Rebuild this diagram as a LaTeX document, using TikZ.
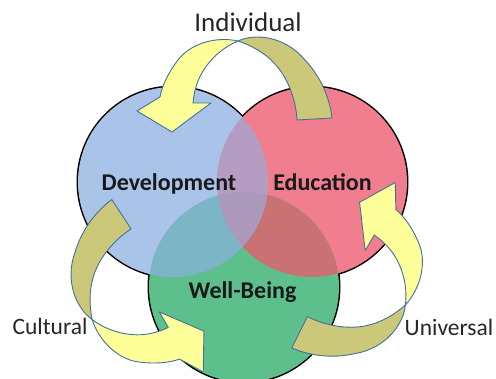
\documentclass[tikz,border=0pt]{standalone}
\usepackage{fontspec}
\setmainfont{Carlito}
\definecolor{devblue}{HTML}{A9C4E8}
\definecolor{edured}{HTML}{F17E8F}
\definecolor{wellgreen}{HTML}{5DBF8B}
\definecolor{devedu}{HTML}{B59CC2}
\definecolor{devwell}{HTML}{7CB6C6}
\definecolor{eduwell}{HTML}{C97173}
\definecolor{allthree}{HTML}{AC98BA}
\definecolor{arrowlight}{HTML}{FFFF99}
\definecolor{arrowdark}{HTML}{CCC87A}
\definecolor{arrowline}{HTML}{41719C}

% one curved arrow, drawn at the top; the others are rotated copies
\newcommand\cyclearrow{%
  \draw[darkband] (238,41) .. controls (255,33) and (285,36) .. (305,60)
    .. controls (322,78) and (330,100) .. (332,118) -- (297,120)
    .. controls (296,100) and (288,78) .. (275,64)
    .. controls (264,52) and (250,45) .. (238,41) -- cycle;
  \draw[lightband] (238,41) .. controls (215,36) and (190,44) .. (178,60)
    .. controls (168,73) and (162,86) .. (160,97) -- (137,111) -- (172,132)
    -- (211,103) -- (193,103) .. controls (194,90) and (198,78) .. (205,68)
    .. controls (214,55) and (226,46) .. (238,41) -- cycle;}

\begin{document}
\begin{tikzpicture}[x=1pt, y=-1pt,
        ring/.style = {draw=black, line width=3pt},
        darkband/.style = {draw=arrowline, line width=0.9pt, fill=arrowdark, line join=round},
        lightband/.style = {draw=arrowline, line width=0.9pt, fill=arrowlight, line join=round},
        tag/.style = {font=\fontsize{24}{28}\selectfont\bfseries, text=black!90, inner sep=0pt},
        side/.style = {font=\fontsize{23.5}{28}\selectfont, text=black!85, inner sep=0pt}]

    \clip (0,0) rectangle (496,379);
    \coordinate (dev) at (173,182);
    \coordinate (edu) at (312,182);
    \coordinate (well) at (244,287);

    % outlines first, the fills hide their inner halves
    \foreach \name in {dev,edu,well} \draw[ring] (\name) circle (95pt);
    \fill[devblue] (dev) circle (95pt);
    \fill[edured] (edu) circle (95pt);
    \fill[wellgreen] (well) circle (95pt);

    % overlaps
    \begin{scope}
        \clip (edu) circle (95pt);
        \fill[eduwell] (well) circle (95pt);
    \end{scope}
    \begin{scope}
        \clip (dev) circle (95pt);
        \fill[devedu] (edu) circle (95pt);
        \fill[devwell] (well) circle (95pt);
        \clip (edu) circle (95pt);
        \fill[allthree] (well) circle (95pt);
    \end{scope}

    % arrows
    \cyclearrow
    \begin{scope}[shift={(-3,12)}, rotate around={120:(243.5,215.5)}]
        \cyclearrow
    \end{scope}
    \begin{scope}[shift={(8,7)}, rotate around={-120:(243.5,215.5)}]
        \cyclearrow
    \end{scope}

    \node[tag, anchor=base] (devlabel) at (169,191) {Development};
    \node[tag, anchor=base] (edulabel) at (322.5,191) {Education};
    \node[tag, anchor=base] (welllabel) at (242.5,299) {Well-Being};
    \node[side, anchor=base, font=\fontsize{27}{30}\selectfont] (indiv) at (248,32) {Individual};
    \node[side, anchor=base] (cult) at (50,335) {Cultural};
    \node[side, anchor=base] (univ) at (449,336) {Universal};
\end{tikzpicture}
\end{document}
